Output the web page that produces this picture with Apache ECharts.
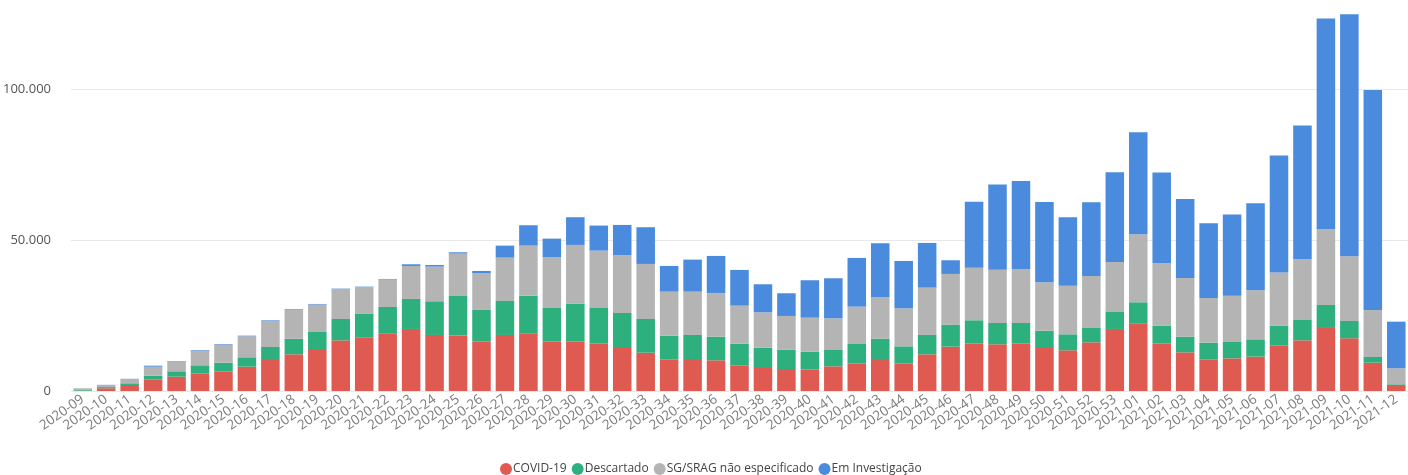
<!DOCTYPE html>
<html>
<head>
<meta charset="utf-8">
<script src="https://cdn.jsdelivr.net/npm/echarts@6/dist/echarts.min.js"></script>
<style>
html,body{margin:0;padding:0;background:#fff;}
#chart{width:1408px;height:475px;}
</style>
</head>
<body>
<div id="chart"></div>
<script>
var categories = ["2020-09","2020-10","2020-11","2020-12","2020-13","2020-14","2020-15","2020-16","2020-17","2020-18","2020-19","2020-20","2020-21","2020-22","2020-23","2020-24","2020-25","2020-26","2020-27","2020-28","2020-29","2020-30","2020-31","2020-32","2020-33","2020-34","2020-35","2020-36","2020-37","2020-38","2020-39","2020-40","2020-41","2020-42","2020-43","2020-44","2020-45","2020-46","2020-47","2020-48","2020-49","2020-50","2020-51","2020-52","2020-53","2021-01","2021-02","2021-03","2021-04","2021-05","2021-06","2021-07","2021-08","2021-09","2021-10","2021-11","2021-12"];
var covid = [100,900,2000,3870,4750,5860,6410,8060,10280,12160,13600,16800,17800,19130,20570,18580,18350,16350,18580,19130,16350,16350,15690,14260,12700,10380,10610,10180,8520,7630,7300,7070,8180,9180,10280,9180,12160,14700,15690,15480,15690,14260,13490,16140,20570,22450,15690,12820,10500,10830,11390,15150,16800,20900,17470,9390,1990];
var descartado = [250,400,550,1210,1780,2660,2980,3110,4310,5190,5970,7080,7740,8730,9950,11170,13160,10520,11270,12480,11180,12650,11840,11610,11180,7970,7970,7830,7170,6740,6400,5970,5420,6410,7070,5630,6420,7290,7760,7080,6870,5740,5310,4760,5630,6970,5970,5190,5530,5420,5740,6510,6750,7630,5750,1890,230];
var sgSrag = [550,700,1450,2980,3270,4880,6010,6980,8660,9650,9090,9860,8860,9090,10940,11490,14040,12170,14370,16590,16820,19430,19010,19140,18250,14590,14360,14500,12610,11730,11180,11280,10500,12380,13830,12610,15690,16820,17450,17680,17910,16060,16130,17250,16590,22590,20690,19470,14820,15360,16260,17590,20120,25110,21460,15590,5310];
var investigacao = [0,50,50,340,150,200,190,200,200,200,200,200,200,200,560,550,450,760,3980,6760,6170,9190,8310,10050,12170,8520,10620,12270,11840,9290,7530,12400,13280,16150,17800,15700,14820,4540,21890,28190,29180,26630,22690,24420,29740,33790,30070,26210,24770,26890,28850,38800,44340,69860,80250,72970,15460];
var seriesNames = ["COVID-19","Descartado","SG/SRAG não especificado","Em Investigação"];
var yTicks = [0,50000,100000];

var colors = ["#DF5A51","#2DB07E","#B4B4B4","#4A8BDE"];
var fontFam = "'Segoe UI','Open Sans','Noto Sans',sans-serif";
function fmt(v){ return v.toString().replace(/\B(?=(\d{3})+(?!\d))/g, "."); }

var dataSets = [covid, descartado, sgSrag, investigacao];
var series = dataSets.map(function(d, i){
  return {
    name: seriesNames[i],
    type: "bar",
    stack: "total",
    data: d,
    barCategoryGap: "21%",
    itemStyle: {color: colors[i]},
    emphasis: {disabled: true}
  };
});

var chart = echarts.init(document.getElementById("chart"), null, {renderer: "canvas"});
chart.setOption({
  animation: false,
  color: colors,
  textStyle: {fontFamily: fontFam},
  grid: {left: 67, top: 14, width: 1342, bottom: 84, containLabel: false},
  legend: {
    data: seriesNames,
    bottom: 0,
    padding: 0,
    left: 500,
    icon: "circle",
    itemWidth: 12,
    itemHeight: 12,
    itemGap: 5,
    textStyle: {color: "#444", fontSize: 12, fontFamily: fontFam, padding: [0,0,0,-4]}
  },
  xAxis: {
    type: "category",
    data: categories,
    axisLine: {show: false},
    axisTick: {show: false},
    axisLabel: {
      rotate: 35,
      interval: 0,
      color: "#7a7a7a",
      fontSize: 13.5,
      fontFamily: fontFam,
      margin: 7
    }
  },
  yAxis: {
    type: "value",
    min: 0,
    max: 125000,
    interval: 50000,
    axisLine: {show: false},
    axisTick: {show: false},
    splitLine: {show: true, showMaxLine: false, lineStyle: {color: "#e8e8e8", width: 1}},
    axisLabel: {
      showMaxLabel: false,
      color: "#555",
      fontSize: 13,
      fontFamily: fontFam,
      margin: 20,
      formatter: function(v){ return yTicks.indexOf(v) >= 0 ? fmt(v) : ""; }
    }
  },
  series: series
});
</script>
</body>
</html>
